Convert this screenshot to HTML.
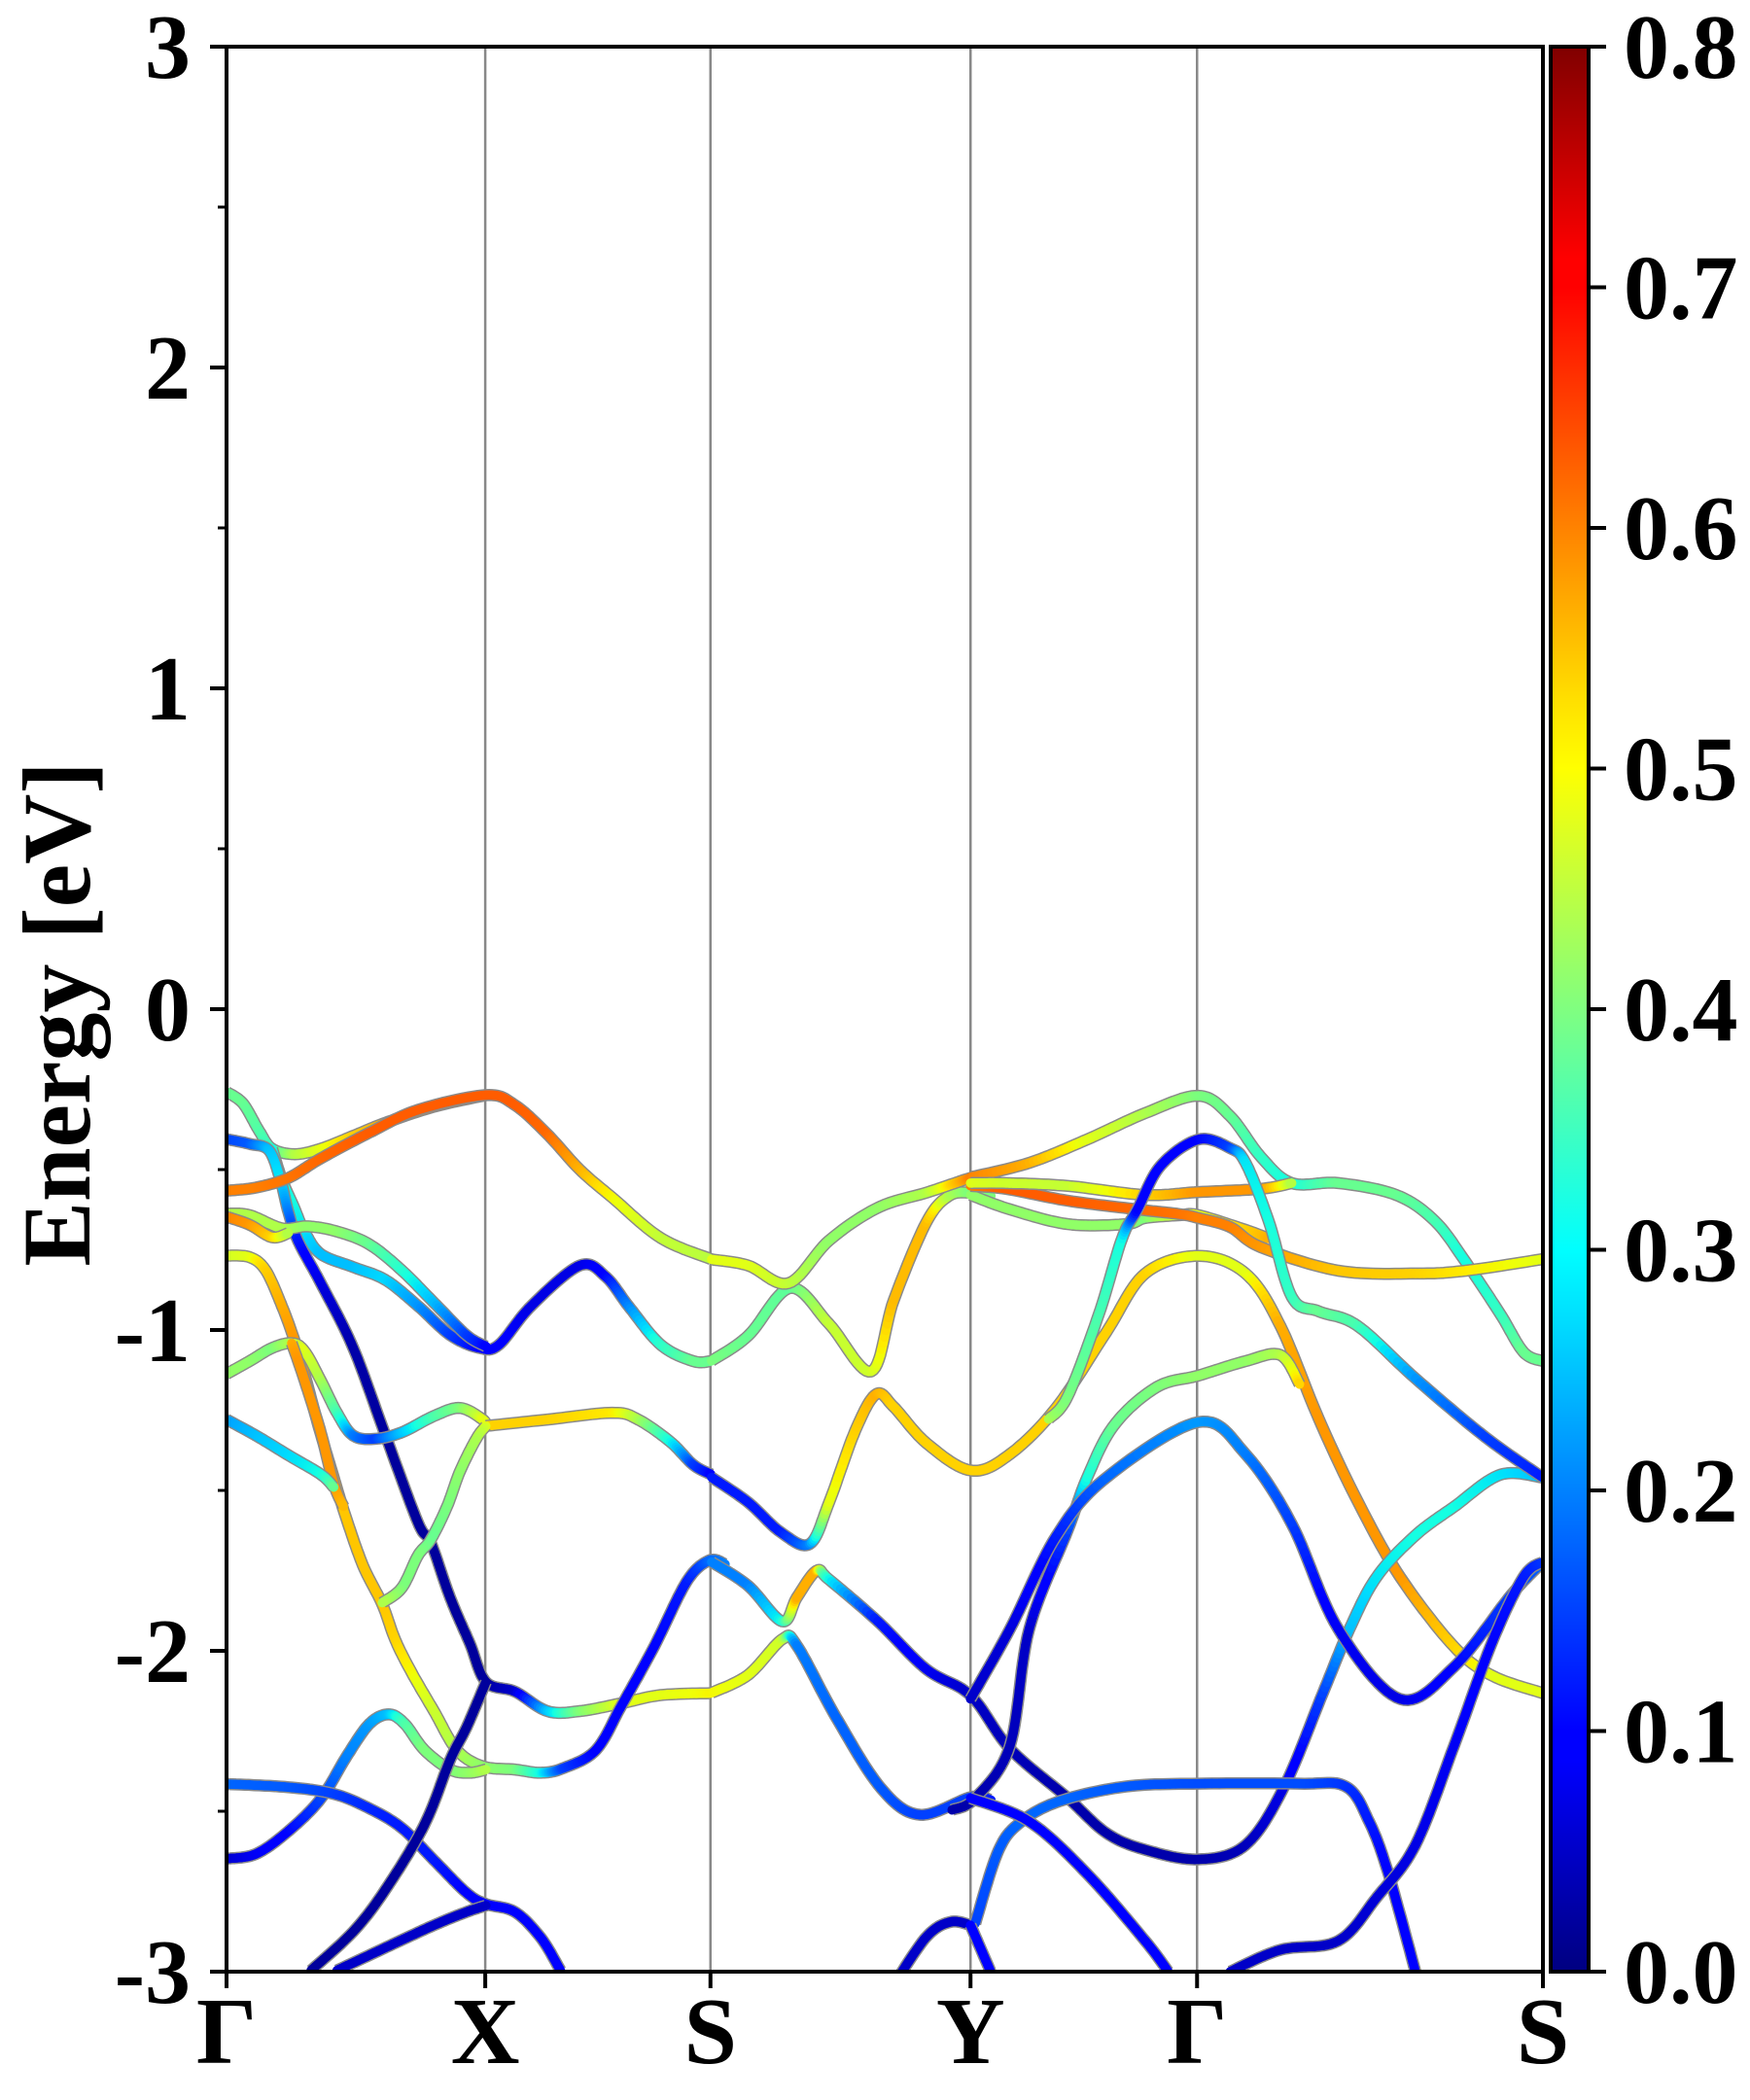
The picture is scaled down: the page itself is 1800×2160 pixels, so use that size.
<!DOCTYPE html>
<html><head><meta charset="utf-8"><style>
html,body{margin:0;padding:0;background:#fff;}
svg{display:block;}
text{font-family:"Liberation Serif","Times New Roman",Times,serif;font-weight:bold;fill:#000;}
</style></head><body>
<svg id="chart" width="1800" height="2160" viewBox="0 0 1800 2160" xmlns="http://www.w3.org/2000/svg" font-family="Liberation Serif, Times New Roman, serif">
<defs>
<clipPath id="plotclip"><rect x="233" y="48" width="1354" height="1980"/></clipPath>
<linearGradient id="jetgrad" x1="0" y1="1" x2="0" y2="0">
<stop offset="0" stop-color="#000080"/><stop offset="0.11" stop-color="#0000ff"/><stop offset="0.125" stop-color="#0000ff"/>
<stop offset="0.34" stop-color="#00dfff"/><stop offset="0.375" stop-color="#00ffff"/><stop offset="0.5" stop-color="#80ff80"/>
<stop offset="0.625" stop-color="#ffff00"/><stop offset="0.66" stop-color="#ffe000"/><stop offset="0.875" stop-color="#ff0000"/>
<stop offset="0.89" stop-color="#ff0000"/><stop offset="1" stop-color="#800000"/>
</linearGradient>
</defs>
<g id="gridlines"></g>
<g id="bands" clip-path="url(#plotclip)"></g>
<rect x="233" y="48" width="1354" height="1980" fill="none" stroke="#000" stroke-width="4"/>
<g id="yaxis"></g>
<g id="xaxis"></g>
<text font-family="Liberation Serif, Times New Roman, serif" x="0" y="0" font-size="100" text-anchor="middle" transform="translate(92,1043) rotate(-90)">Energy [eV]</text>
<rect x="1595" y="48" width="39" height="1980" fill="url(#jetgrad)" stroke="#000" stroke-width="4"/>
<g id="cbaxis"></g>
</svg>
<script>
const kTicks = [0, 193, 361, 555, 724, 982];
const kLabels = ["Γ", "X", "S", "Y", "Γ", "S"];
const yTicks = [3, 2, 1, 0, -1, -2, -3];
const yMinor = [2.5, 1.5, 0.5, -0.5, -1.5, -2.5];
const cbTicks = [0.0, 0.1, 0.2, 0.3, 0.4, 0.5, 0.6, 0.7, 0.8];
const bandK = [
[0,12.3,24.4,34,51,70.3,94.5,118.6,154.8,193.5],
[34,41.3,49.8,58.2,70.3,94.5,118.6,142.8,166.9,188.7,203.2,227.3,263.5,282.9,299.8,323.9,348.1,361.4],
[361.8,389.1,420.5,449.5,480.9,497.8,522,538.9,555.3,570.3],
[0,17.2,31.6,40.1,46.1,53.4,70.3,94.5,118.6,142.8,152.4,166.9,181.4,193.5,215.2,239.4,263.5,295,323.9,361.4],
[0,22,46.1,70.3,106.5,142.8,193.5,215.2,239.4,263.5,287.7,323.9,361.4],
[361.8,389.1,419.3,449.5,485.8,522,541.3,555.3,570.3],
[0,17.2,41.3,60.6,82.4,106.5,130.7,154.8,179,193.5],
[0,17.2,34,46.1],
[0,17.2,29.2,41.3,51,58.2,67.9,80,88,101.7,116.2,125.9,138,154.8,171.8,191.1,215.2,234.6,251.5,275.6,295,319.1,343.3,360.2,372],
[0,17.2,34,48.6,58.2,70.3,82.4,94.5,111.4,130.7,154.8,174.2,191.1,193.5],
[48.6,53.4,60.6,70.3,80,87.2],
[193.5,239.4,287.7,307,331.2,348.1,361.4],
[361.8,389.1,413.3,435,449.5,468.9,484.6,497.8,522,555.3,584.4,619,656.4,685.3,725,760.2,786.1,814.9,843.7,875.4,915.7,944.5,982],
[193.5,186.3,174.2,164.5,152.4,142.8,130.7,116.2],
[0,22,46.1,70.3,80],
[0,22,46.1,70.3,89.6,106.5,121,133,147.6,166.9,181.4,193.5],
[0,46.1,80,106.5,130.7,154.8,179,193.5,215.2,234.6,249.1],
[82.4,118.6,154.8,179,193.5],
[193.5,179,166.9,147.6,118.6,94.5,63],
[361.8,389.1,414.5,425.4,439.9,449.5,485.8,522,555.3,584.4,627.6,656.4,685.3,725,760.2,789,817.8,837.9,858.1,886.9,915.7,950.3,982],
[361.8,389.1,414.5,425.4,454.4,488.2,517.2,555.3,570.3],
[497.8,522,540,555.3],
[555,598.8,642,685.3,725,748.6,771.7,794.7,829.3,872.5,901.3,924.4,950.3,967.6,982],
[555,584.4,627.6,670.8,685.3,711.2,725,760.2,777.4],
[555,581.5,627.6,679.5,711.2,725,748.6,771.7,829.3,886.9,924.4,982],
[555,581.5,627.6,685.3,725,771.7,794.7],
[613.2,627.6,650.7,668,679.5,696.8,725,748.6,760.2,777.4,794.7,814.9,843.7,886.9,938.8,982],
[541.2,558.5,584.4,598.8,627.6,642,662.2,693.9,725,760.2,786.1,800.5],
[555,584.4,619,656.4,725,760.2,794.7,829.3,875.4,915.7,958.9,982],
[558.5,575.8,593,621.9,670.8,725,800.5,835,852.3,866.8,886.9],
[555,598.8,642,685.3,702.5],
[748.6,786.1,829.3,858.1,886.9,915.7,944.5,967.6,982],
[555,570]
];
const bandE = [
[-0.258,-0.294,-0.38,-0.435,-0.452,-0.435,-0.395,-0.354,-0.304,-0.268],
[-0.435,-0.531,-0.612,-0.693,-0.763,-0.804,-0.844,-0.925,-1.016,-1.056,-1.046,-0.925,-0.799,-0.834,-0.925,-1.046,-1.097,-1.097],
[-1.096,-1.018,-0.869,-0.981,-1.129,-0.906,-0.665,-0.582,-0.572,-0.582],
[-0.405,-0.42,-0.44,-0.531,-0.632,-0.723,-0.854,-1.056,-1.329,-1.60,-1.663,-1.835,-1.976,-2.097,-2.127,-2.188,-2.188,-2.163,-2.138,-2.132],
[-0.566,-0.556,-0.526,-0.465,-0.385,-0.314,-0.268,-0.299,-0.39,-0.5,-0.587,-0.713,-0.779],
[-0.78,-0.799,-0.854,-0.721,-0.619,-0.572,-0.545,-0.526,-0.517],
[-0.637,-0.642,-0.683,-0.677,-0.693,-0.733,-0.814,-0.915,-1.016,-1.051],
[-0.647,-0.672,-0.711,-0.698],
[-0.768,-0.773,-0.814,-0.925,-1.036,-1.137,-1.289,-1.46,-1.57,-1.733,-1.855,-1.966,-2.067,-2.188,-2.309,-2.36,-2.37,-2.38,-2.365,-2.309,-2.168,-1.986,-1.784,-1.718,-1.73],
[-1.137,-1.097,-1.056,-1.041,-1.066,-1.157,-1.258,-1.329,-1.339,-1.319,-1.268,-1.243,-1.279,-1.299],
[-1.041,-1.097,-1.188,-1.319,-1.48,-1.55],
[-1.299,-1.279,-1.258,-1.279,-1.349,-1.42,-1.45],
[-1.459,-1.537,-1.63,-1.667,-1.537,-1.315,-1.2,-1.24,-1.352,-1.438,-1.387,-1.242,-1.006,-0.824,-0.769,-0.824,-0.987,-1.278,-1.533,-1.769,-1.987,-2.078,-2.132],
[-1.299,-1.339,-1.44,-1.55,-1.653,-1.703,-1.804,-1.85],
[-1.279,-1.329,-1.39,-1.45,-1.49],
[-2.648,-2.633,-2.562,-2.461,-2.329,-2.228,-2.198,-2.228,-2.309,-2.37,-2.38,-2.37],
[-2.415,-2.425,-2.446,-2.491,-2.552,-2.653,-2.754,-2.789,-2.814,-2.895,-2.996],
[-2.996,-2.925,-2.855,-2.814,-2.794],
[-2.097,-2.239,-2.339,-2.542,-2.744,-2.875,-2.996],
[-1.723,-1.797,-1.908,-1.834,-1.751,-1.778,-1.908,-2.057,-2.14,-2.305,-2.459,-2.568,-2.62,-2.65,-2.605,-2.423,-2.132,-1.93,-1.769,-1.64,-1.551,-1.451,-1.46],
[-2.131,-2.075,-1.964,-1.983,-2.205,-2.428,-2.511,-2.456,-2.465],
[-3.04,-2.892,-2.845,-2.855],
[-0.524,-0.479,-0.406,-0.324,-0.27,-0.333,-0.461,-0.542,-0.542,-0.579,-0.66,-0.788,-0.951,-1.069,-1.097],
[-0.579,-0.624,-0.67,-0.67,-0.651,-0.642,-0.642,-0.688,-0.715],
[-0.551,-0.56,-0.597,-0.624,-0.639,-0.651,-0.679,-0.742,-0.815,-0.824,-0.815,-0.779],
[-0.542,-0.542,-0.551,-0.579,-0.57,-0.56,-0.542],
[-1.278,-1.206,-0.951,-0.715,-0.624,-0.488,-0.406,-0.433,-0.479,-0.66,-0.897,-0.942,-0.987,-1.151,-1.333,-1.46],
[-2.496,-2.459,-2.296,-1.932,-1.623,-1.46,-1.296,-1.178,-1.142,-1.097,-1.078,-1.169],
[-2.15,-1.932,-1.642,-1.46,-1.287,-1.387,-1.605,-1.932,-2.15,-2.05,-1.823,-1.723],
[-2.85,-2.623,-2.532,-2.468,-2.423,-2.414,-2.414,-2.423,-2.532,-2.695,-3.0],
[-2.459,-2.532,-2.695,-2.904,-3.0],
[-3.0,-2.932,-2.904,-2.768,-2.605,-2.296,-1.969,-1.769,-1.723],
[-2.855,-3.0]
];
const bandW = [
[.38,.38,.36,.33,.45,.5,.55,.58,.62,.65],
[.3,.3,.3,.28,.25,.25,.27,.22,.15,.1,.1,.07,.07,.1,.2,.32,.38,.38],
[.4,.38,.37,.47,.48,.57,.57,.45,.4,.4],
[.15,.17,.25,.28,.2,.12,.07,.03,.02,.02,.02,.02,.02,.02,.05,.25,.4,.5,.5,.52],
[.62,.62,.63,.64,.65,.65,.65,.65,.64,.58,.52,.47,.46],
[.5,.5,.47,.42,.42,.45,.55,.62,.62],
[.45,.45,.45,.42,.42,.38,.32,.25,.15,.1],
[.62,.6,.55,.45],
[.48,.5,.55,.58,.6,.6,.6,.6,.56,.56,.56,.55,.52,.48,.45,.42,.4,.3,.15,.1,.1,.1,.12,.18,.2],
[.42,.42,.4,.45,.5,.45,.35,.2,.15,.25,.35,.4,.5,.5],
[.58,.6,.6,.6,.6,.57],
[.55,.55,.53,.45,.3,.15,.1],
[.12,.12,.12,.2,.5,.55,.58,.55,.55,.55,.55,.55,.55,.55,.5,.5,.58,.6,.6,.6,.55,.5,.5],
[.5,.45,.42,.4,.38,.4,.4,.45],
[.22,.25,.27,.3,.38],
[.05,.08,.1,.15,.2,.22,.25,.35,.4,.4,.42,.45],
[.18,.17,.15,.13,.12,.12,.1,.1,.1,.1,.1],
[.05,.05,.05,.05,.05],
[.02,.02,.02,.02,.02,.02,.02],
[.2,.2,.3,.58,.58,.3,.12,.08,.05,.04,.03,.03,.03,.03,.04,.07,.15,.25,.28,.3,.3,.28,.25],
[.52,.5,.48,.2,.18,.17,.15,.15,.12],
[.05,.05,.05,.05],
[.62,.58,.5,.45,.4,.38,.33,.3,.38,.38,.35,.3,.33,.38,.38],
[.42,.42,.42,.42,.4,.5,.5,.55,.58],
[.62,.65,.65,.64,.63,.62,.62,.6,.56,.55,.53,.5],
[.5,.48,.47,.55,.6,.6,.45],
[.45,.4,.35,.3,.1,.1,.1,.15,.28,.3,.33,.38,.35,.22,.15,.12],
[.03,.03,.04,.05,.15,.3,.38,.4,.42,.42,.45,.55],
[.05,.06,.12,.18,.22,.2,.15,.08,.07,.1,.15,.18],
[.15,.17,.18,.18,.17,.16,.16,.14,.12,.1,.1],
[.1,.1,.1,.1,.1],
[.05,.05,.05,.06,.07,.08,.1,.12,.14],
[.1,.1]
];
const X0=233, X1=1587, Y0=48, Y1=2028, KMAX=982, EMAX=3, EMIN=-3, WMAX=0.8;
const NS="http://www.w3.org/2000/svg";
function xs(k){return X0+k/KMAX*(X1-X0);}
function ys(e){return Y0+(EMAX-e)/(EMAX-EMIN)*(Y1-Y0);}
function cl(v){return Math.max(0,Math.min(1,v));}
function interp(t,xp,fp){if(t<=xp[0])return fp[0];for(let i=1;i<xp.length;i++){if(t<=xp[i]){return fp[i-1]+(fp[i]-fp[i-1])*(t-xp[i-1])/(xp[i]-xp[i-1]);}}return fp[fp.length-1];}
function jet(w){const t=cl(w/WMAX);
 const r=interp(t,[0,0.35,0.66,0.89,1],[0,0,1,1,0.5]);
 const g=interp(t,[0,0.125,0.375,0.64,0.91,1],[0,0,1,1,0,0]);
 const b=interp(t,[0,0.11,0.34,0.65,1],[0.5,1,1,0,0]);
 return "rgb("+Math.round(r*255)+","+Math.round(g*255)+","+Math.round(b*255)+")";}
function mk(tag,attrs,parent){const el=document.createElementNS(NS,tag);for(const a in attrs)el.setAttribute(a,attrs[a]);parent.appendChild(el);return el;}
const grid=document.getElementById('gridlines');
kTicks.slice(1,-1).forEach(function(k){
 const l=mk('line',{x1:xs(k),x2:xs(k),y1:Y0,y2:Y1,stroke:'#888',"stroke-width":2.5},grid);
 
 
});
const bandsG=document.getElementById('bands');
for(let b=0;b<bandK.length;b++){
 const K=bandK[b],E=bandE[b],W=bandW[b];
 const P=K.map(function(k,i){return [xs(k),ys(E[i]),W[i]];});
 const pts=[];
 for(let i=0;i<P.length-1;i++){
  const p0=P[Math.max(0,i-1)],p1=P[i],p2=P[i+1],p3=P[Math.min(P.length-1,i+2)];
  const N=14;
  for(let s=0;s<N;s++){const t=s/N,t2=t*t,t3=t2*t;
   const f=function(a,b2,c,d){return 0.5*((2*b2)+(-a+c)*t+(2*a-5*b2+4*c-d)*t2+(-a+3*b2-3*c+d)*t3);};
   pts.push([f(p0[0],p1[0],p2[0],p3[0]),f(p0[1],p1[1],p2[1],p3[1]),p1[2]+(p2[2]-p1[2])*t]);}
 }
 pts.push(P[P.length-1]);
 const g=mk('g',{},bandsG);
 
 
 const d="M"+pts.map(function(p){return p[0].toFixed(1)+","+p[1].toFixed(1);}).join("L");
 mk('path',{d:d,fill:'none',stroke:'#8a8a8a',"stroke-width":12.5,"stroke-linejoin":'round'},g);
 for(let i=0;i<pts.length-1;i++){
  mk('line',{x1:pts[i][0].toFixed(1),y1:pts[i][1].toFixed(1),x2:pts[i+1][0].toFixed(1),y2:pts[i+1][1].toFixed(1),stroke:jet((pts[i][2]+pts[i+1][2])/2),"stroke-width":9.5,"stroke-linecap":'round'},g);
 }
}
const ya=document.getElementById('yaxis');
yTicks.forEach(function(v){
 const y=ys(v);
 const t=mk('line',{x1:X0-17,x2:X0,y1:y,y2:y,stroke:'#000',"stroke-width":4},ya);
 
 
 const tx=mk('text',{x:196,y:y+32,"font-size":94,"text-anchor":'end'},ya);
 tx.textContent=String(v);
 
 
});
yMinor.forEach(function(v){
 const y=ys(v);
 const t=mk('line',{x1:X0-9,x2:X0,y1:y,y2:y,stroke:'#000',"stroke-width":3},ya);
 
 
});
const xa=document.getElementById('xaxis');
kTicks.forEach(function(k,i){
 const x=xs(k);
 const t=mk('line',{x1:x,x2:x,y1:Y1,y2:Y1+17,stroke:'#000',"stroke-width":4},xa);
 
 
 const tx=mk('text',{x:x,y:2122,"font-size":98,"text-anchor":'middle'},xa);
 tx.textContent=kLabels[i];
 
 
});
const cb=document.getElementById('cbaxis');
cbTicks.forEach(function(v){
 const y=Y1-(v/WMAX)*(Y1-Y0);
 const t=mk('line',{x1:1634,x2:1652,y1:y,y2:y,stroke:'#000',"stroke-width":4},cb);
 
 
 const tx=mk('text',{x:1670,y:y+32,"font-size":94,"text-anchor":'start'},cb);
 tx.textContent=v.toFixed(1);
 
 
});
</script>
</body></html>
